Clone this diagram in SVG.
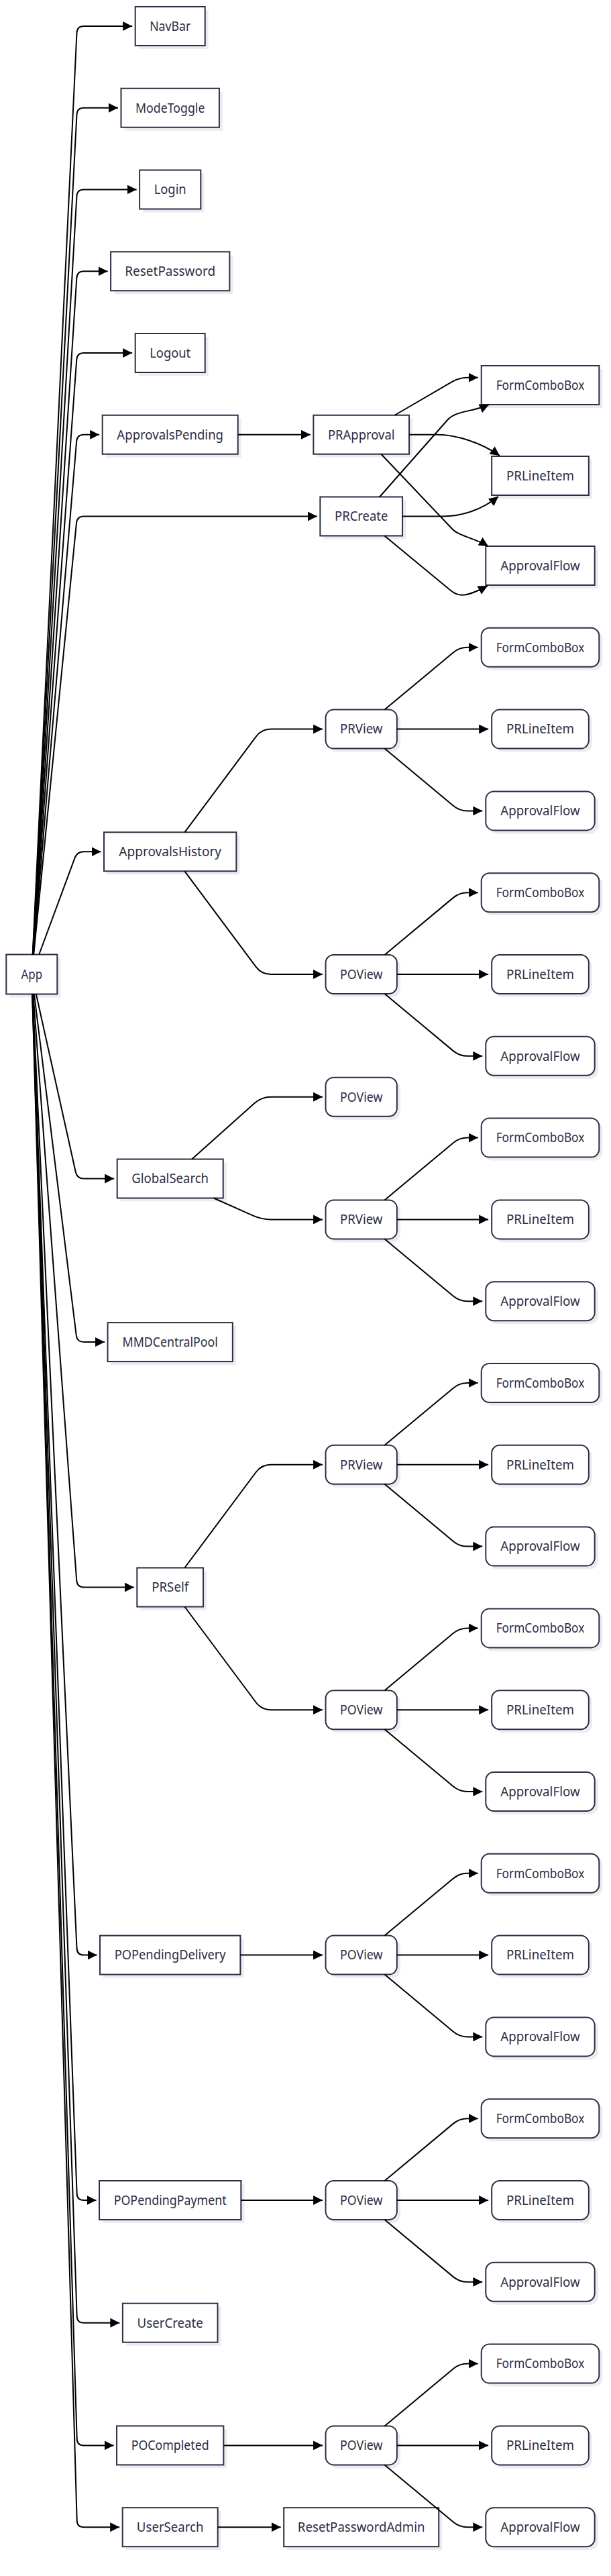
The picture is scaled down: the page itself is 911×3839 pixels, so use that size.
<svg xmlns="http://www.w3.org/2000/svg" width="911" height="3839" viewBox="0 0 911 3839">
<style>
.sh{fill:#ebebf0}
.b{fill:#ffffff;stroke:#2d2d46;stroke-width:2}
text{font-family:"Noto Sans","Liberation Sans",sans-serif;font-size:19px;fill:#2d2d46;text-anchor:middle}
.e path{fill:none;stroke:#000;stroke-width:2;marker-end:url(#arr)}
</style>
<defs>
<marker id="arr" markerUnits="userSpaceOnUse" markerWidth="14" markerHeight="14" refX="14" refY="7" orient="auto"><path d="M0,0 L14,7 L0,14 z" fill="#000"/></marker>
</defs>
<rect width="911" height="3839" fill="#ffffff"/>
<g id="nodes">
<g id="App"><rect class="sh" x="14.3" y="1427.5" width="76" height="59"/><rect class="b" x="9.3" y="1422.5" width="76" height="59"/><text x="47.3" y="1458.8" textLength="31.7" lengthAdjust="spacingAndGlyphs">App</text></g>
<g id="NavBar"><rect class="sh" x="206.7" y="15" width="104" height="58"/><rect class="b" x="201.7" y="10" width="104" height="58"/><text x="253.7" y="45.8" textLength="61" lengthAdjust="spacingAndGlyphs">NavBar</text></g>
<g id="ModeToggle"><rect class="sh" x="185.5" y="136.75" width="146.4" height="58"/><rect class="b" x="180.5" y="131.75" width="146.4" height="58"/><text x="253.7" y="167.55" textLength="103.4" lengthAdjust="spacingAndGlyphs">ModeToggle</text></g>
<g id="Login"><rect class="sh" x="213.1" y="258.5" width="91.2" height="58"/><rect class="b" x="208.1" y="253.5" width="91.2" height="58"/><text x="253.7" y="289.3" textLength="48" lengthAdjust="spacingAndGlyphs">Login</text></g>
<g id="ResetPassword"><rect class="sh" x="170.1" y="380.25" width="177.2" height="58"/><rect class="b" x="165.1" y="375.25" width="177.2" height="58"/><text x="253.7" y="411.05" textLength="134.7" lengthAdjust="spacingAndGlyphs">ResetPassword</text></g>
<g id="Logout"><rect class="sh" x="206.7" y="502" width="104" height="58"/><rect class="b" x="201.7" y="497" width="104" height="58"/><text x="253.7" y="532.8" textLength="61" lengthAdjust="spacingAndGlyphs">Logout</text></g>
<g id="ApprovalsPending"><rect class="sh" x="157.7" y="623.75" width="202" height="58"/><rect class="b" x="152.7" y="618.75" width="202" height="58"/><text x="253.7" y="654.55" textLength="158.7" lengthAdjust="spacingAndGlyphs">ApprovalsPending</text></g>
<g id="ApprovalsHistory"><rect class="sh" x="160.05" y="1245.3" width="197.3" height="58"/><rect class="b" x="155.05" y="1240.3" width="197.3" height="58"/><text x="253.7" y="1276.1" textLength="152.7" lengthAdjust="spacingAndGlyphs">ApprovalsHistory</text></g>
<g id="GlobalSearch"><rect class="sh" x="179.7" y="1732.5" width="158" height="58"/><rect class="b" x="174.7" y="1727.5" width="158" height="58"/><text x="253.7" y="1763.3" textLength="114.7" lengthAdjust="spacingAndGlyphs">GlobalSearch</text></g>
<g id="MMDCentralPool"><rect class="sh" x="165.55" y="1976.1" width="186.3" height="58"/><rect class="b" x="160.55" y="1971.1" width="186.3" height="58"/><text x="253.7" y="2006.9" textLength="142.3" lengthAdjust="spacingAndGlyphs">MMDCentralPool</text></g>
<g id="PRSelf"><rect class="sh" x="209.35" y="2341.5" width="98.7" height="58"/><rect class="b" x="204.35" y="2336.5" width="98.7" height="58"/><text x="253.7" y="2372.3" textLength="55" lengthAdjust="spacingAndGlyphs">PRSelf</text></g>
<g id="POPendingDelivery"><rect class="sh" x="154.05" y="2889.6" width="209.3" height="58"/><rect class="b" x="149.05" y="2884.6" width="209.3" height="58"/><text x="253.7" y="2920.4" textLength="166" lengthAdjust="spacingAndGlyphs">POPendingDelivery</text></g>
<g id="POPendingPayment"><rect class="sh" x="153.05" y="3255" width="211.3" height="58"/><rect class="b" x="148.05" y="3250" width="211.3" height="58"/><text x="253.7" y="3285.8" textLength="168" lengthAdjust="spacingAndGlyphs">POPendingPayment</text></g>
<g id="UserCreate"><rect class="sh" x="187.9" y="3437.7" width="141.6" height="58"/><rect class="b" x="182.9" y="3432.7" width="141.6" height="58"/><text x="253.7" y="3468.5" textLength="98.3" lengthAdjust="spacingAndGlyphs">UserCreate</text></g>
<g id="POCompleted"><rect class="sh" x="179.05" y="3620.4" width="159.3" height="58"/><rect class="b" x="174.05" y="3615.4" width="159.3" height="58"/><text x="253.7" y="3651.2" textLength="116" lengthAdjust="spacingAndGlyphs">POCompleted</text></g>
<g id="UserSearch"><rect class="sh" x="187.7" y="3742.2" width="142" height="58"/><rect class="b" x="182.7" y="3737.2" width="142" height="58"/><text x="253.7" y="3773" textLength="99.7" lengthAdjust="spacingAndGlyphs">UserSearch</text></g>

<g id="PRApproval"><rect class="sh" x="472.35" y="623.75" width="142.7" height="58"/><rect class="b" x="467.35" y="618.75" width="142.7" height="58"/><text x="538.7" y="654.55" textLength="99.6" lengthAdjust="spacingAndGlyphs">PRApproval</text></g>
<g id="PRCreate"><rect class="sh" x="482.35" y="745.5" width="122.7" height="58"/><rect class="b" x="477.35" y="740.5" width="122.7" height="58"/><text x="538.7" y="776.3" textLength="79.3" lengthAdjust="spacingAndGlyphs">PRCreate</text></g>
<g id="ResetPasswordAdmin"><rect class="sh" x="428.2" y="3742.2" width="231" height="58"/><rect class="b" x="423.2" y="3737.2" width="231" height="58"/><text x="538.7" y="3773" textLength="189.7" lengthAdjust="spacingAndGlyphs">ResetPasswordAdmin</text></g>

<g id="PRView1"><rect class="sh" x="490.55" y="1062.6" width="106.3" height="58" rx="12"/><rect class="b" x="485.55" y="1057.6" width="106.3" height="58" rx="12"/><text x="538.7" y="1093.4" textLength="63.3" lengthAdjust="spacingAndGlyphs">PRView</text></g>
<g id="POView2"><rect class="sh" x="490.55" y="1428" width="106.3" height="58" rx="12"/><rect class="b" x="485.55" y="1423" width="106.3" height="58" rx="12"/><text x="538.7" y="1458.8" textLength="63.3" lengthAdjust="spacingAndGlyphs">POView</text></g>
<g id="POView3"><rect class="sh" x="490.55" y="1610.7" width="106.3" height="58" rx="12"/><rect class="b" x="485.55" y="1605.7" width="106.3" height="58" rx="12"/><text x="538.7" y="1641.5" textLength="63.3" lengthAdjust="spacingAndGlyphs">POView</text></g>
<g id="PRView4"><rect class="sh" x="490.55" y="1793.4" width="106.3" height="58" rx="12"/><rect class="b" x="485.55" y="1788.4" width="106.3" height="58" rx="12"/><text x="538.7" y="1824.2" textLength="63.3" lengthAdjust="spacingAndGlyphs">PRView</text></g>
<g id="PRView5"><rect class="sh" x="490.55" y="2158.8" width="106.3" height="58" rx="12"/><rect class="b" x="485.55" y="2153.8" width="106.3" height="58" rx="12"/><text x="538.7" y="2189.6" textLength="63.3" lengthAdjust="spacingAndGlyphs">PRView</text></g>
<g id="POView6"><rect class="sh" x="490.55" y="2524.2" width="106.3" height="58" rx="12"/><rect class="b" x="485.55" y="2519.2" width="106.3" height="58" rx="12"/><text x="538.7" y="2555" textLength="63.3" lengthAdjust="spacingAndGlyphs">POView</text></g>
<g id="POView7"><rect class="sh" x="490.55" y="2889.6" width="106.3" height="58" rx="12"/><rect class="b" x="485.55" y="2884.6" width="106.3" height="58" rx="12"/><text x="538.7" y="2920.4" textLength="63.3" lengthAdjust="spacingAndGlyphs">POView</text></g>
<g id="POView8"><rect class="sh" x="490.55" y="3255" width="106.3" height="58" rx="12"/><rect class="b" x="485.55" y="3250" width="106.3" height="58" rx="12"/><text x="538.7" y="3285.8" textLength="63.3" lengthAdjust="spacingAndGlyphs">POView</text></g>
<g id="POView9"><rect class="sh" x="490.55" y="3620.4" width="106.3" height="58" rx="12"/><rect class="b" x="485.55" y="3615.4" width="106.3" height="58" rx="12"/><text x="538.7" y="3651.2" textLength="63.3" lengthAdjust="spacingAndGlyphs">POView</text></g>

<g id="FormComboBox0"><rect class="sh" x="722.7" y="550" width="175.6" height="58"/><rect class="b" x="717.7" y="545" width="175.6" height="58"/><text x="805.5" y="580.8" textLength="131.7" lengthAdjust="spacingAndGlyphs">FormComboBox</text></g>
<g id="PRLineItem0"><rect class="sh" x="738.15" y="685" width="144.7" height="58"/><rect class="b" x="733.15" y="680" width="144.7" height="58"/><text x="805.5" y="715.8" textLength="101" lengthAdjust="spacingAndGlyphs">PRLineItem</text></g>
<g id="ApprovalFlow0"><rect class="sh" x="729.3" y="819" width="162.4" height="58"/><rect class="b" x="724.3" y="814" width="162.4" height="58"/><text x="805.5" y="849.8" textLength="118.3" lengthAdjust="spacingAndGlyphs">ApprovalFlow</text></g>

<g id="FormComboBox1"><rect class="sh" x="722.7" y="940.8" width="175.6" height="58" rx="12"/><rect class="b" x="717.7" y="935.8" width="175.6" height="58" rx="12"/><text x="805.5" y="971.6" textLength="131.7" lengthAdjust="spacingAndGlyphs">FormComboBox</text></g>
<g id="PRLineItem1"><rect class="sh" x="738.15" y="1062.6" width="144.7" height="58" rx="12"/><rect class="b" x="733.15" y="1057.6" width="144.7" height="58" rx="12"/><text x="805.5" y="1093.4" textLength="101" lengthAdjust="spacingAndGlyphs">PRLineItem</text></g>
<g id="ApprovalFlow1"><rect class="sh" x="729.3" y="1184.4" width="162.4" height="58" rx="12"/><rect class="b" x="724.3" y="1179.4" width="162.4" height="58" rx="12"/><text x="805.5" y="1215.2" textLength="118.3" lengthAdjust="spacingAndGlyphs">ApprovalFlow</text></g>

<g id="FormComboBox2"><rect class="sh" x="722.7" y="1306.2" width="175.6" height="58" rx="12"/><rect class="b" x="717.7" y="1301.2" width="175.6" height="58" rx="12"/><text x="805.5" y="1337" textLength="131.7" lengthAdjust="spacingAndGlyphs">FormComboBox</text></g>
<g id="PRLineItem2"><rect class="sh" x="738.15" y="1428" width="144.7" height="58" rx="12"/><rect class="b" x="733.15" y="1423" width="144.7" height="58" rx="12"/><text x="805.5" y="1458.8" textLength="101" lengthAdjust="spacingAndGlyphs">PRLineItem</text></g>
<g id="ApprovalFlow2"><rect class="sh" x="729.3" y="1549.8" width="162.4" height="58" rx="12"/><rect class="b" x="724.3" y="1544.8" width="162.4" height="58" rx="12"/><text x="805.5" y="1580.6" textLength="118.3" lengthAdjust="spacingAndGlyphs">ApprovalFlow</text></g>

<g id="FormComboBox4"><rect class="sh" x="722.7" y="1671.6" width="175.6" height="58" rx="12"/><rect class="b" x="717.7" y="1666.6" width="175.6" height="58" rx="12"/><text x="805.5" y="1702.4" textLength="131.7" lengthAdjust="spacingAndGlyphs">FormComboBox</text></g>
<g id="PRLineItem4"><rect class="sh" x="738.15" y="1793.4" width="144.7" height="58" rx="12"/><rect class="b" x="733.15" y="1788.4" width="144.7" height="58" rx="12"/><text x="805.5" y="1824.2" textLength="101" lengthAdjust="spacingAndGlyphs">PRLineItem</text></g>
<g id="ApprovalFlow4"><rect class="sh" x="729.3" y="1915.2" width="162.4" height="58" rx="12"/><rect class="b" x="724.3" y="1910.2" width="162.4" height="58" rx="12"/><text x="805.5" y="1946" textLength="118.3" lengthAdjust="spacingAndGlyphs">ApprovalFlow</text></g>

<g id="FormComboBox5"><rect class="sh" x="722.7" y="2037" width="175.6" height="58" rx="12"/><rect class="b" x="717.7" y="2032" width="175.6" height="58" rx="12"/><text x="805.5" y="2067.8" textLength="131.7" lengthAdjust="spacingAndGlyphs">FormComboBox</text></g>
<g id="PRLineItem5"><rect class="sh" x="738.15" y="2158.8" width="144.7" height="58" rx="12"/><rect class="b" x="733.15" y="2153.8" width="144.7" height="58" rx="12"/><text x="805.5" y="2189.6" textLength="101" lengthAdjust="spacingAndGlyphs">PRLineItem</text></g>
<g id="ApprovalFlow5"><rect class="sh" x="729.3" y="2280.6" width="162.4" height="58" rx="12"/><rect class="b" x="724.3" y="2275.6" width="162.4" height="58" rx="12"/><text x="805.5" y="2311.4" textLength="118.3" lengthAdjust="spacingAndGlyphs">ApprovalFlow</text></g>

<g id="FormComboBox6"><rect class="sh" x="722.7" y="2402.4" width="175.6" height="58" rx="12"/><rect class="b" x="717.7" y="2397.4" width="175.6" height="58" rx="12"/><text x="805.5" y="2433.2" textLength="131.7" lengthAdjust="spacingAndGlyphs">FormComboBox</text></g>
<g id="PRLineItem6"><rect class="sh" x="738.15" y="2524.2" width="144.7" height="58" rx="12"/><rect class="b" x="733.15" y="2519.2" width="144.7" height="58" rx="12"/><text x="805.5" y="2555" textLength="101" lengthAdjust="spacingAndGlyphs">PRLineItem</text></g>
<g id="ApprovalFlow6"><rect class="sh" x="729.3" y="2646" width="162.4" height="58" rx="12"/><rect class="b" x="724.3" y="2641" width="162.4" height="58" rx="12"/><text x="805.5" y="2676.8" textLength="118.3" lengthAdjust="spacingAndGlyphs">ApprovalFlow</text></g>

<g id="FormComboBox7"><rect class="sh" x="722.7" y="2767.8" width="175.6" height="58" rx="12"/><rect class="b" x="717.7" y="2762.8" width="175.6" height="58" rx="12"/><text x="805.5" y="2798.6" textLength="131.7" lengthAdjust="spacingAndGlyphs">FormComboBox</text></g>
<g id="PRLineItem7"><rect class="sh" x="738.15" y="2889.6" width="144.7" height="58" rx="12"/><rect class="b" x="733.15" y="2884.6" width="144.7" height="58" rx="12"/><text x="805.5" y="2920.4" textLength="101" lengthAdjust="spacingAndGlyphs">PRLineItem</text></g>
<g id="ApprovalFlow7"><rect class="sh" x="729.3" y="3011.4" width="162.4" height="58" rx="12"/><rect class="b" x="724.3" y="3006.4" width="162.4" height="58" rx="12"/><text x="805.5" y="3042.2" textLength="118.3" lengthAdjust="spacingAndGlyphs">ApprovalFlow</text></g>

<g id="FormComboBox8"><rect class="sh" x="722.7" y="3133.2" width="175.6" height="58" rx="12"/><rect class="b" x="717.7" y="3128.2" width="175.6" height="58" rx="12"/><text x="805.5" y="3164" textLength="131.7" lengthAdjust="spacingAndGlyphs">FormComboBox</text></g>
<g id="PRLineItem8"><rect class="sh" x="738.15" y="3255" width="144.7" height="58" rx="12"/><rect class="b" x="733.15" y="3250" width="144.7" height="58" rx="12"/><text x="805.5" y="3285.8" textLength="101" lengthAdjust="spacingAndGlyphs">PRLineItem</text></g>
<g id="ApprovalFlow8"><rect class="sh" x="729.3" y="3376.8" width="162.4" height="58" rx="12"/><rect class="b" x="724.3" y="3371.8" width="162.4" height="58" rx="12"/><text x="805.5" y="3407.6" textLength="118.3" lengthAdjust="spacingAndGlyphs">ApprovalFlow</text></g>

<g id="FormComboBox9"><rect class="sh" x="722.7" y="3498.6" width="175.6" height="58" rx="12"/><rect class="b" x="717.7" y="3493.6" width="175.6" height="58" rx="12"/><text x="805.5" y="3529.4" textLength="131.7" lengthAdjust="spacingAndGlyphs">FormComboBox</text></g>
<g id="PRLineItem9"><rect class="sh" x="738.15" y="3620.4" width="144.7" height="58" rx="12"/><rect class="b" x="733.15" y="3615.4" width="144.7" height="58" rx="12"/><text x="805.5" y="3651.2" textLength="101" lengthAdjust="spacingAndGlyphs">PRLineItem</text></g>
<g id="ApprovalFlow9"><rect class="sh" x="729.3" y="3742.2" width="162.4" height="58" rx="12"/><rect class="b" x="724.3" y="3737.2" width="162.4" height="58" rx="12"/><text x="805.5" y="3773" textLength="118.3" lengthAdjust="spacingAndGlyphs">ApprovalFlow</text></g>
</g>

<g id="connectors" class="e">
<path d="M48.71,1422.5 L114.52,48.99 Q115,39 125,39 L197.2,39"/>
<path d="M48.85,1422.5 L114.48,170.74 Q115,160.75 125,160.75 L176,160.75"/>
<path d="M49.01,1422.5 L114.42,292.48 Q115,282.5 125,282.5 L203.6,282.5"/>
<path d="M49.21,1422.5 L114.36,414.23 Q115,404.25 125,404.25 L160.6,404.25"/>
<path d="M49.46,1422.5 L114.27,535.97 Q115,526 125,526 L197.2,526"/>
<path d="M49.78,1422.5 L114.16,657.71 Q115,647.75 125,647.75 L148.2,647.75"/>
<path d="M50.23,1422.5 L114.01,779.45 Q115,769.5 125,769.5 L472.85,769.5"/>
<path d="M58.23,1422.5 L111.52,1278.68 Q115,1269.3 125,1269.3 L150.55,1269.3"/>
<path d="M53.86,1481.5 L112.83,1746.74 Q115,1756.5 125,1756.5 L170.2,1756.5"/>
<path d="M50.94,1481.5 L113.77,1990.18 Q115,2000.1 125,2000.1 L156.05,2000.1"/>
<path d="M49.49,1481.5 L114.26,2355.53 Q115,2365.5 125,2365.5 L199.85,2365.5"/>
<path d="M48.67,1481.5 L114.54,2903.61 Q115,2913.6 125,2913.6 L144.55,2913.6"/>
<path d="M48.39,1481.5 L114.63,3269.01 Q115,3279 125,3279 L143.55,3279"/>
<path d="M48.29,1481.5 L114.66,3451.71 Q115,3461.7 125,3461.7 L178.4,3461.7"/>
<path d="M48.21,1481.5 L114.69,3634.41 Q115,3644.4 125,3644.4 L169.55,3644.4"/>
<path d="M48.16,1481.5 L114.71,3756.21 Q115,3766.2 125,3766.2 L178.2,3766.2"/>

<path d="M354.7,647.75 L462.85,647.75"/>
<path d="M275.34,1240.3 L381.63,1097.82 Q390,1086.6 404,1086.6 L481.05,1086.6"/>
<path d="M275.34,1298.3 L381.63,1440.78 Q390,1452 404,1452 L481.05,1452"/>
<path d="M286.15,1727.5 L379.56,1644.03 Q390,1634.7 404,1634.7 L481.05,1634.7"/>
<path d="M318.6,1785.5 L377.22,1811.69 Q390,1817.4 404,1817.4 L481.05,1817.4"/>
<path d="M275.34,2336.5 L381.63,2194.02 Q390,2182.8 404,2182.8 L481.05,2182.8"/>
<path d="M275.34,2394.5 L381.63,2536.98 Q390,2548.2 404,2548.2 L481.05,2548.2"/>
<path d="M358.35,2913.6 L481.05,2913.6"/>
<path d="M359.35,3279 L481.05,3279"/>
<path d="M333.35,3644.4 L481.05,3644.4"/>
<path d="M324.7,3766.2 L418.7,3766.2"/>

<path d="M588.6,618.75 L674.6,568.73 Q685,562.7 697,562.7 L712.7,562.7"/>
<path d="M566,740.5 L668,625 C680,612 705,614 729,603"/>
<path d="M610.05,647.75 L652,647.75 C680,647.75 718,660 745,679"/>
<path d="M600.05,769.5 L660,769.5 C688,769.5 718,760 743,740"/>
<path d="M568.3,676.75 L674,788 C684,799 708,802 728,814"/>
<path d="M573.3,798.5 L672,880 C684,890 695,890 727,873"/>

<path d="M573.53,1057.6 L675.78,972.48 Q685,964.8 697,964.8 L712.7,964.8"/>
<path d="M591.85,1086.6 L728.15,1086.6"/>
<path d="M573.53,1115.6 L675.78,1200.72 Q685,1208.4 697,1208.4 L719.3,1208.4"/>
<path d="M573.53,1423 L675.78,1337.88 Q685,1330.2 697,1330.2 L712.7,1330.2"/>
<path d="M591.85,1452 L728.15,1452"/>
<path d="M573.53,1481 L675.78,1566.12 Q685,1573.8 697,1573.8 L719.3,1573.8"/>
<path d="M573.53,1788.4 L675.78,1703.28 Q685,1695.6 697,1695.6 L712.7,1695.6"/>
<path d="M591.85,1817.4 L728.15,1817.4"/>
<path d="M573.53,1846.4 L675.78,1931.52 Q685,1939.2 697,1939.2 L719.3,1939.2"/>
<path d="M573.53,2153.8 L675.78,2068.68 Q685,2061 697,2061 L712.7,2061"/>
<path d="M591.85,2182.8 L728.15,2182.8"/>
<path d="M573.53,2211.8 L675.78,2296.92 Q685,2304.6 697,2304.6 L719.3,2304.6"/>
<path d="M573.53,2519.2 L675.78,2434.08 Q685,2426.4 697,2426.4 L712.7,2426.4"/>
<path d="M591.85,2548.2 L728.15,2548.2"/>
<path d="M573.53,2577.2 L675.78,2662.32 Q685,2670 697,2670 L719.3,2670"/>
<path d="M573.53,2884.6 L675.78,2799.48 Q685,2791.8 697,2791.8 L712.7,2791.8"/>
<path d="M591.85,2913.6 L728.15,2913.6"/>
<path d="M573.53,2942.6 L675.78,3027.72 Q685,3035.4 697,3035.4 L719.3,3035.4"/>
<path d="M573.53,3250 L675.78,3164.88 Q685,3157.2 697,3157.2 L712.7,3157.2"/>
<path d="M591.85,3279 L728.15,3279"/>
<path d="M573.53,3308 L675.78,3393.12 Q685,3400.8 697,3400.8 L719.3,3400.8"/>
<path d="M573.53,3615.4 L675.78,3530.28 Q685,3522.6 697,3522.6 L712.7,3522.6"/>
<path d="M591.85,3644.4 L728.15,3644.4"/>
<path d="M573.53,3673.4 L675.78,3758.52 Q685,3766.2 697,3766.2 L719.3,3766.2"/>
</g>
</svg>
